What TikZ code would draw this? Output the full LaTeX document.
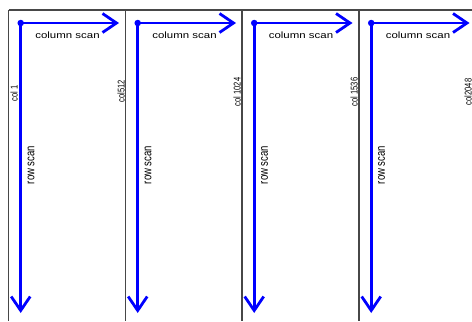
\documentclass[tikz,border=0pt]{standalone}
\usepackage{fontspec}
\setmainfont{Liberation Sans}
\usetikzlibrary{arrows.meta}
\begin{document}
\begin{tikzpicture}[x=1bp,y=-1bp,
  frame/.style={draw=black!72, line width=1.1bp},
  scan/.style={draw=blue, line width=2.8bp, -{Straight Barb[length=14bp,width=19bp]}},
  startdot/.style={circle, fill=blue, inner sep=0pt, minimum size=6.5bp},
  hlabel/.style={font=\fontsize{9.2}{10}\selectfont, inner sep=0pt, anchor=base, xscale=1.25},
  vlabel/.style={font=\fontsize{9.6}{10}\selectfont, inner sep=0pt, xscale=1.3, rotate=90},
  collabel/.style={font=\fontsize{7.6}{9}\selectfont, inner sep=0pt, xscale=1.3, rotate=90}]
  \useasboundingbox (0,0) rectangle (472,321);

  % frame: top rule and column separators
  \coordinate (tl) at (8.5,10);
  \coordinate (tr) at (472,10);
  \draw[frame] (tl) -- (tr);
  \foreach \x [count=\i] in {8.5,125.5,242,359} {
    \coordinate (sepT\i) at (\x,10);
    \coordinate (sepB\i) at (\x,321);
    \draw[frame] (sepT\i) -- (sepB\i);
  }

  % scan arrows of each column
  \foreach \x [count=\i] in {8.5,125.5,242,359} {
    \pgfmathsetmacro{\sx}{\x+12.2}
    \pgfmathsetmacro{\hx}{\x+110.5}
    \pgfmathsetmacro{\lx}{\x+59}
    \pgfmathsetmacro{\rx}{\x+22.5}
    \node[startdot] (s\i) at (\sx,23) {};
    \coordinate (h\i) at (\hx,23);
    \coordinate (v\i) at (\sx,313);
    \draw[scan] (s\i.center) -- (h\i);
    \draw[scan] (s\i.center) -- (v\i);
    \node[hlabel] (cs\i) at (\lx,38) {column scan};
    \node[vlabel] (rs\i) at (\rx,165) {row scan};
  }

  % column index labels
  \node[collabel] (c1) at (14,93) {col 1};
  \node[collabel] (c2) at (121,91) {col512};
  \node[collabel] (c3) at (237,92) {col 1024};
  \node[collabel] (c4) at (354,92) {col 1536};
  \node[collabel] (c5) at (468,92) {col2048};
\end{tikzpicture}
\end{document}
